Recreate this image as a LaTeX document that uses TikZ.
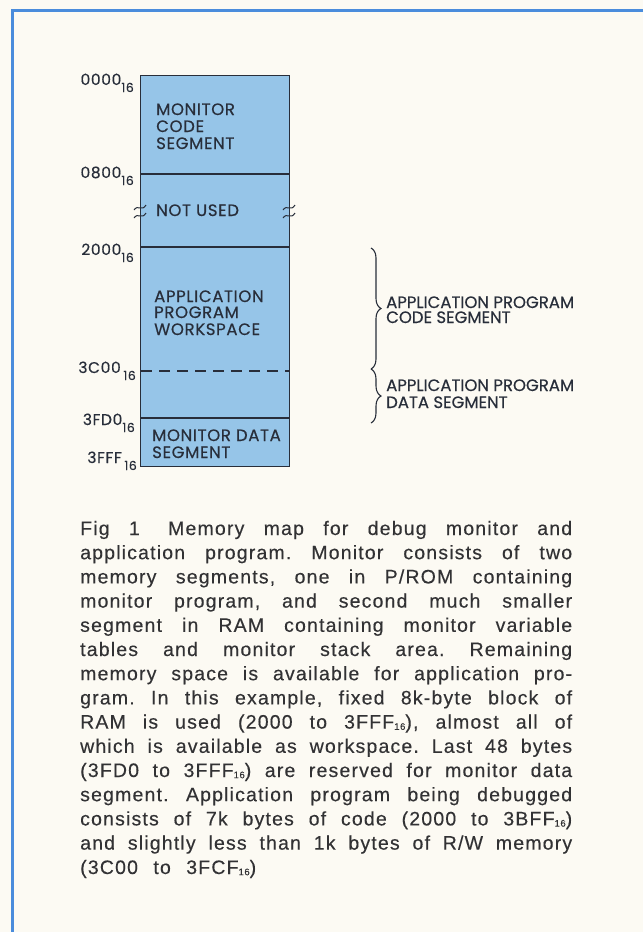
\documentclass[tikz,border=0pt]{standalone}
\usepackage{fontspec}
\setmainfont{Liberation Sans}[LetterSpace=6, FakeBold=0.3]
\newfontfamily\geo{Poppins}[FakeBold=0.4]
\newfontfamily\geosp{Poppins}[FakeBold=0.4, LetterSpace=4]
\usetikzlibrary{decorations.pathreplacing}
\definecolor{bg}{RGB}{252,250,243}
\definecolor{frameblue}{RGB}{74,140,220}
\definecolor{memfill}{RGB}{150,197,232}
\definecolor{ink}{RGB}{40,46,58}
\definecolor{captxt}{RGB}{50,50,52}
\newcommand\hexsub{\raisebox{-1.2pt}{\fontsize{9.5}{9.5}\selectfont 16}}
\newcommand\adsub{\raisebox{-7pt}{\fontsize{12.5}{12.5}\selectfont 16}}
\frenchspacing
\tikzset{
  addr/.style={anchor=base east, inner sep=0pt, font=\geosp\fontsize{15.5}{15.5}\selectfont, text=ink},
  boxtxt/.style={anchor=base west, inner sep=0pt, font=\geosp\fontsize{16.5}{16.5}\selectfont, text=ink},
  bracetxt/.style={anchor=base west, inner sep=0pt, font=\geo\fontsize{16.5}{16.5}\selectfont, text=ink},
  captline/.style={anchor=base west, inner sep=0pt, font=\fontsize{19.5}{20}\selectfont, text=captxt},
  memline/.style={draw=ink, line width=1.2pt},
  bracelink/.style={draw=ink, line width=1.1pt, decorate, decoration={brace, amplitude=10pt}},
  breakmark/.style={draw=ink, line width=1pt}
}
\begin{document}
\begin{tikzpicture}[x=1pt,y=-1pt]
\fill[bg] (0,0) rectangle (643,932);
\useasboundingbox (0,0) rectangle (643,932);
% frame
\draw[frameblue, line width=3pt] (643,10) -- (12,10) -- (12,932);
% memory box
\node[memline, fill=memfill, anchor=north west, minimum width=149pt, minimum height=391pt, inner sep=0pt] (mem) at (140,75) {};
\draw[memline] (140,174) -- (289,174);
\draw[memline] (140,247) -- (289,247);
\draw[memline] (140,418) -- (289,418);
\draw[ink, line width=1.2pt, dash pattern=on 11pt off 7pt] (141,371) -- (289,371);
% break marks
\fill[bg] (133,208) rectangle (139.4,215);
\fill[memfill] (140.6,208) rectangle (147,215);
\fill[memfill] (282,208) rectangle (288.4,215);
\fill[bg] (289.6,208) rectangle (296,215);
\foreach \xx in {140,289} {
  \draw[breakmark] (\xx-6,210) .. controls (\xx-2,204) and (\xx+2,212) .. (\xx+6,205);
  \draw[breakmark] (\xx-6,218) .. controls (\xx-2,212) and (\xx+2,220) .. (\xx+6,213);
}
% addresses
\node[addr] (a0000) at (134,85) {0000\adsub};
\node[addr] (a0800) at (134,178) {0800\adsub};
\node[addr] (a2000) at (134,255) {2000\adsub};
\node[addr] (a3C00) at (136,373) {3C00\,\adsub};
\node[addr] (a3FD0) at (135,425) {3FD0\adsub};
\node[addr] (a3FFF) at (137,463) {3FFF\,\adsub};
% box texts
\node[boxtxt] (t1a) at (156,115) {MONITOR};
\node[boxtxt] (t1b) at (156,132) {CODE};
\node[boxtxt] (t1c) at (156,149) {SEGMENT};
\node[boxtxt] (t2) at (156,216) {NOT USED};
\node[boxtxt] (t3a) at (154,302) {APPLICATION};
\node[boxtxt] (t3b) at (154,318) {PROGRAM};
\node[boxtxt] (t3c) at (154,335) {WORKSPACE};
\node[boxtxt] (t4a) at (152,441) {MONITOR DATA};
\node[boxtxt] (t4b) at (152,458) {SEGMENT};
% braces
\coordinate (b1s) at (371,248);
\coordinate (b1e) at (371,369);
\coordinate (b2s) at (371,369);
\coordinate (b2e) at (371,423);
\draw[bracelink] (b1s) -- (b1e);
\draw[bracelink] (b2s) -- (b2e);
\node[bracetxt] (c1a) at (386,308) {APPLICATION PROGRAM};
\node[bracetxt] (c1b) at (386,323) {CODE SEGMENT};
\node[bracetxt] (c2a) at (386,391) {APPLICATION PROGRAM};
\node[bracetxt] (c2b) at (386,408) {DATA SEGMENT};
% caption
\foreach \t [count=\i] in {
  {Fig 1\ \hspace{9pt}Memory map for debug monitor and},
  {application program. Monitor consists of two},
  {memory segments, one in P/ROM containing},
  {monitor program, and second much smaller},
  {segment in RAM containing monitor variable},
  {tables and monitor stack area. Remaining},
  {memory space is available for application pro-},
  {gram. In this example, fixed 8k-byte block of},
  {RAM is used (2000 to 3FFF\hexsub), almost all of},
  {which is available as workspace. Last 48 bytes},
  {(3FD0 to 3FFF\hexsub) are reserved for monitor data},
  {segment. Application program being debugged},
  {consists of 7k bytes of code (2000 to 3BFF\hexsub)},
  {and slightly less than 1k bytes of R/W memory}} {
  \node[captline] (cap\i) at (80,{535+24.2*(\i-1)}) {\makebox[492pt][s]{\t}};
}
\node[captline] (cap15) at (80,874) {\makebox[176pt][s]{(3C00 to 3FCF\hexsub)}};
\end{tikzpicture}
\end{document}
